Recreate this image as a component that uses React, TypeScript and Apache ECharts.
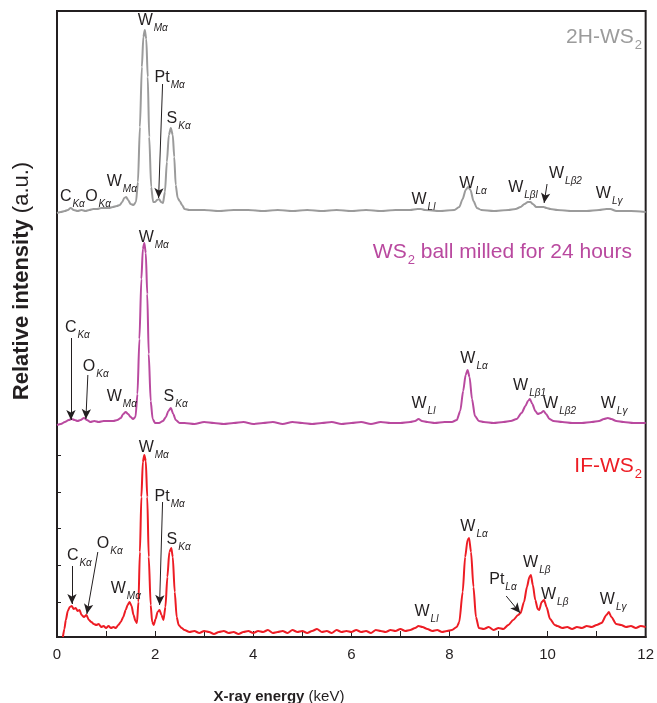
import React, { useEffect, useRef } from "react";
import * as echarts from "echarts";

// ---------- data ----------
const xMin = 0;
const xMax = 12;
const xInterval = 2;
const yMax = 626;
const yTickValues = [35, 72, 109, 145, 182];

// vertical offsets of the stacked spectra (a.u.)
const offsetIF = 0;
const offsetMilled = 208;
const offset2H = 420;

// [energy keV, intensity a.u.]
const spectrum2H: [number, number][] = [
  [0, 4], [0.08, 5], [0.16, 6], [0.22, 7], [0.28, 9], [0.34, 7], [0.42, 6], [0.5, 7], [0.58, 6], [0.66, 7],
  [0.74, 8], [0.82, 8], [0.9, 9], [0.98, 9], [1.06, 9], [1.14, 10], [1.22, 11], [1.28, 12], [1.33, 15],
  [1.37, 19], [1.41, 20], [1.45, 17], [1.5, 13], [1.56, 12], [1.61, 15], [1.65, 35], [1.69, 90], [1.73, 150],
  [1.76, 180], [1.79, 187], [1.82, 178], [1.85, 140], [1.88, 80], [1.92, 30], [1.96, 15], [2.0, 15],
  [2.04, 17], [2.08, 18], [2.12, 15], [2.16, 14], [2.2, 25], [2.24, 55], [2.28, 82], [2.32, 89], [2.36, 82],
  [2.39, 60], [2.42, 32], [2.46, 19], [2.5, 16], [2.55, 12], [2.6, 8], [2.7, 7], [3.0, 7], [3.3, 6], [3.6, 7],
  [3.9, 7], [4.2, 6], [4.5, 7], [4.8, 6], [5.1, 7], [5.4, 6], [5.7, 7], [6.0, 6], [6.3, 7], [6.6, 6], [6.9, 7],
  [7.2, 7], [7.35, 8], [7.42, 8], [7.5, 7], [7.8, 6], [8.1, 7], [8.2, 10], [8.27, 18], [8.33, 27], [8.38, 30],
  [8.43, 27], [8.49, 16], [8.56, 9], [8.65, 7], [8.9, 6], [9.2, 7], [9.35, 8], [9.45, 10], [9.53, 13],
  [9.6, 15], [9.65, 15], [9.7, 13], [9.77, 10], [9.85, 10], [9.92, 10], [9.98, 9], [10.06, 8], [10.2, 7],
  [10.5, 6], [10.8, 6], [11.05, 7], [11.2, 8], [11.28, 8], [11.4, 6], [11.7, 6], [12, 5],
];

const spectrumMilled: [number, number][] = [
  [0, 4], [0.08, 5], [0.16, 7], [0.24, 9], [0.3, 10], [0.36, 9], [0.42, 8], [0.48, 9], [0.55, 11], [0.61, 9],
  [0.68, 7], [0.76, 8], [0.85, 7], [0.95, 8], [1.05, 8], [1.15, 8], [1.23, 9], [1.3, 11], [1.35, 15], [1.4, 17],
  [1.45, 15], [1.5, 12], [1.55, 10], [1.6, 12], [1.64, 35], [1.68, 90], [1.72, 150], [1.75, 180], [1.78, 186],
  [1.81, 176], [1.84, 135], [1.87, 75], [1.91, 28], [1.95, 10], [2.0, 6], [2.08, 6], [2.16, 8], [2.22, 12],
  [2.27, 18], [2.32, 21], [2.37, 15], [2.42, 9], [2.5, 6], [2.6, 6], [2.8, 5], [3.0, 7], [3.2, 6], [3.4, 5],
  [3.6, 6], [3.8, 7], [4.0, 5], [4.2, 6], [4.4, 7], [4.6, 5], [4.8, 7], [5.0, 6], [5.2, 5], [5.4, 6], [5.6, 7],
  [5.8, 5], [6.0, 6], [6.2, 7], [6.4, 5], [6.6, 7], [6.8, 6], [7.0, 6], [7.2, 7], [7.3, 8], [7.37, 10],
  [7.44, 8], [7.55, 7], [7.7, 6], [7.9, 7], [8.05, 7], [8.15, 9], [8.22, 18], [8.28, 38], [8.33, 54],
  [8.37, 59], [8.41, 52], [8.46, 30], [8.52, 13], [8.6, 8], [8.7, 7], [8.9, 6], [9.1, 7], [9.25, 8], [9.37, 10],
  [9.47, 16], [9.55, 23], [9.6, 28], [9.64, 30], [9.69, 25], [9.75, 18], [9.8, 15], [9.86, 16], [9.92, 18],
  [9.97, 15], [10.04, 10], [10.12, 8], [10.3, 7], [10.5, 6], [10.7, 6], [10.9, 7], [11.05, 8], [11.15, 10],
  [11.23, 11], [11.3, 10], [11.4, 8], [11.55, 7], [11.75, 6], [12, 6],
];

const spectrumIF: [number, number][] = [
  [0.12, 0], [0.15, 8], [0.18, 17], [0.22, 26], [0.26, 30], [0.3, 31], [0.34, 28], [0.38, 29], [0.42, 26],
  [0.46, 27], [0.5, 22], [0.55, 20], [0.6, 22], [0.65, 17], [0.7, 15], [0.75, 13], [0.8, 12], [0.85, 13],
  [0.9, 10], [0.95, 11], [1.0, 9], [1.05, 11], [1.1, 9], [1.15, 10], [1.2, 9], [1.25, 12], [1.3, 15],
  [1.35, 20], [1.4, 27], [1.44, 32], [1.48, 35], [1.52, 31], [1.56, 22], [1.6, 16], [1.63, 14], [1.66, 35],
  [1.69, 85], [1.72, 140], [1.75, 175], [1.78, 182], [1.81, 176], [1.84, 140], [1.87, 80], [1.91, 32],
  [1.94, 15], [1.97, 12], [2.01, 18], [2.05, 25], [2.09, 27], [2.13, 22], [2.17, 17], [2.21, 30], [2.25, 60],
  [2.29, 85], [2.33, 89], [2.36, 80], [2.4, 45], [2.44, 20], [2.48, 12], [2.54, 9], [2.6, 7], [2.7, 5],
  [2.8, 6], [2.9, 4], [3.0, 6], [3.1, 5], [3.2, 3], [3.3, 5], [3.4, 6], [3.5, 4], [3.6, 5], [3.7, 3], [3.8, 5],
  [3.9, 6], [4.0, 4], [4.1, 6], [4.2, 5], [4.3, 7], [4.4, 4], [4.5, 5], [4.6, 6], [4.7, 4], [4.8, 7], [4.9, 5],
  [5.0, 6], [5.1, 4], [5.2, 6], [5.3, 8], [5.4, 5], [5.5, 6], [5.6, 4], [5.7, 7], [5.8, 5], [5.9, 6], [6.0, 5],
  [6.1, 7], [6.2, 5], [6.3, 6], [6.4, 4], [6.5, 7], [6.6, 6], [6.7, 5], [6.8, 7], [6.9, 6], [7.0, 8], [7.1, 6],
  [7.2, 7], [7.3, 9], [7.37, 11], [7.45, 10], [7.55, 8], [7.65, 6], [7.75, 7], [7.85, 5], [7.95, 6], [8.05, 7],
  [8.15, 10], [8.2, 15], [8.27, 45], [8.32, 80], [8.37, 97], [8.4, 99], [8.44, 85], [8.49, 50], [8.54, 20],
  [8.6, 9], [8.7, 8], [8.8, 10], [8.9, 7], [9.0, 9], [9.1, 8], [9.2, 12], [9.3, 17], [9.4, 22], [9.45, 24],
  [9.52, 35], [9.58, 50], [9.63, 60], [9.66, 62], [9.7, 52], [9.75, 37], [9.8, 28], [9.83, 27], [9.88, 35],
  [9.93, 37], [9.98, 30], [10.05, 18], [10.15, 12], [10.2, 11], [10.3, 9], [10.4, 10], [10.5, 8], [10.6, 10],
  [10.7, 9], [10.8, 11], [10.9, 10], [11.0, 12], [11.1, 14], [11.2, 22], [11.25, 25], [11.3, 20], [11.4, 13],
  [11.5, 12], [11.6, 10], [11.7, 11], [11.8, 9], [11.9, 11], [12.0, 10],
];

// peak labels: [energy keV, intensity a.u. (label top), element, line]
const labels2H: [number, number, string, string][] = [
  [0.06, 29, "C", "Kα"], [0.575, 29, "O", "Kα"], [1.015, 44, "W", "Mα"], [1.645, 205, "W", "Mα"],
  [1.99, 148, "Pt", "Mα"], [2.234, 107, "S", "Kα"], [7.228, 26, "W", "Ll"], [8.203, 42, "W", "Lα"],
  [9.198, 38, "W", "Lβl"], [10.03, 52, "W", "Lβ2"], [10.985, 32, "W", "Lγ"],
];
const labelsMilled: [number, number, string, string][] = [
  [1.665, 200, "W", "Mα"], [0.162, 110, "C", "Kα"], [0.528, 71, "O", "Kα"], [1.015, 41, "W", "Mα"],
  [2.173, 41, "S", "Kα"], [7.228, 34, "W", "Ll"], [8.223, 79, "W", "Lα"], [9.299, 52, "W", "Lβ1"],
  [9.909, 34, "W", "Lβ2"], [11.086, 34, "W", "Lγ"],
];
const labelsIF: [number, number, string, string][] = [
  [1.665, 198, "W", "Mα"], [1.99, 149, "Pt", "Mα"], [2.234, 106, "S", "Kα"], [0.203, 90, "C", "Kα"],
  [0.812, 102, "O", "Kα"], [1.096, 57, "W", "Mα"], [7.289, 34, "W", "Ll"], [8.223, 119, "W", "Lα"],
  [8.812, 66, "Pt", "Lα"], [9.503, 83, "W", "Lβ"], [9.868, 51, "W", "Lβ"], [11.066, 46, "W", "Lγ"],
];

// arrows: [from keV, from a.u., to keV, to a.u.]
const arrows2H: [number, number, number, number][] = [
  [2.152, 133, 2.071, 19], [9.99, 33, 9.93, 14],
];
const arrowsMilled: [number, number, number, number][] = [
  [0.284, 91, 0.284, 9], [0.629, 54, 0.589, 10],
];
const arrowsIF: [number, number, number, number][] = [
  [0.305, 71, 0.305, 33], [0.832, 85, 0.609, 23], [2.152, 135, 2.091, 32], [9.157, 41, 9.442, 24],
];

// ---------- styling ----------
const FONT = "'Liberation Sans', Arial, Helvetica, sans-serif";
const INK = "#231f20";
const GRAY = "#9b9b9b";
const MAGENTA = "#b9499f";
const RED = "#ed1c24";

const labelRich = {
  m: { fontSize: 16, lineHeight: 17, color: INK, fontFamily: FONT, verticalAlign: "top" },
  s: {
    fontSize: 10, lineHeight: 10, color: INK, fontFamily: FONT, fontStyle: "italic",
    verticalAlign: "top", padding: [11, 0, 0, 1],
  },
};

function lineSeries(name: string, data: [number, number][], offset: number, color: string,
  arrows: [number, number, number, number][]) {
  return {
    name,
    type: "line",
    data: data.map(([x, y]) => [x, y + offset]),
    showSymbol: false,
    smooth: 0.25,
    smoothMonotone: "x",
    lineStyle: { color, width: 2 },
    itemStyle: { color },
    emphasis: { disabled: true },
    silent: true,
    markLine: {
      silent: true,
      symbol: ["none", "arrow"],
      symbolSize: [7, 10],
      label: { show: false },
      itemStyle: { color: INK },
      lineStyle: { color: INK, width: 1, type: "solid" },
      emphasis: { disabled: true },
      data: arrows.map(([x1, y1, x2, y2]) => [
        { coord: [x1, y1 + offset] },
        { coord: [x2, y2 + offset] },
      ]),
    },
  };
}

function labelSeries(name: string, data: [number, number, string, string][], offset: number) {
  return {
    name,
    type: "scatter",
    z: 5,
    silent: true,
    symbolSize: 0.1,
    itemStyle: { color: "rgba(0,0,0,0)" },
    data: data.map(([x, y, el, ln]) => [x, y + offset, el, ln]),
    label: {
      show: true,
      position: [0, 0],
      align: "left",
      verticalAlign: "top",
      color: INK,
      opacity: 1,
      formatter: (p: any) => `{m|${p.data[2]}}{s|${p.data[3]}}`,
      rich: labelRich,
    },
    emphasis: { disabled: true },
  };
}

function titleText(x: number, y: number, main: string, tail: string, color: string) {
  return {
    type: "text",
    x,
    y,
    silent: true,
    style: {
      text: `{m|${main}}{s|2}` + (tail ? `{m|${tail}}` : ""),
      align: "right",
      verticalAlign: "top",
      rich: {
        m: { fontSize: 21, lineHeight: 22, fill: color, fontFamily: FONT, verticalAlign: "top" },
        s: { fontSize: 13, lineHeight: 13, fill: color, fontFamily: FONT, verticalAlign: "top", padding: [13, 0, 0, 1] },
      },
    },
  };
}

export default function App() {
  const ref = useRef<HTMLDivElement>(null);
  useEffect(() => {
    if (!ref.current) return;
    const chart = echarts.init(ref.current, null, { renderer: "svg" });
    const option: any = {
      animation: false,
      grid: {
        left: 57, right: 9, top: 11, bottom: 66,
        show: true, borderColor: INK, borderWidth: 2, backgroundColor: "transparent",
      },
      xAxis: {
        type: "value",
        min: xMin,
        max: xMax,
        interval: xInterval,
        axisLine: { show: true, lineStyle: { color: INK, width: 2 } },
        axisTick: { show: true, inside: true, length: 6, lineStyle: { color: INK, width: 1 } },
        minorTick: { show: true, splitNumber: 2, length: 6, lineStyle: { color: INK, width: 1 } },
        axisLabel: { fontSize: 15, color: INK, fontFamily: FONT, margin: 9 },
        splitLine: { show: false },
        minorSplitLine: { show: false },
      },
      yAxis: {
        type: "value",
        min: 0,
        max: yMax,
        axisLine: { show: false },
        axisLabel: { show: false },
        splitLine: { show: false },
        axisTick: { show: true, inside: true, length: 4, customValues: yTickValues, lineStyle: { color: INK } },
      },
      series: [
        lineSeries("2H-WS2", spectrum2H, offset2H, GRAY, arrows2H),
        lineSeries("WS2 ball milled for 24 hours", spectrumMilled, offsetMilled, MAGENTA, arrowsMilled),
        lineSeries("IF-WS2", spectrumIF, offsetIF, RED, arrowsIF),
        labelSeries("labels 2H", labels2H, offset2H),
        labelSeries("labels milled", labelsMilled, offsetMilled),
        labelSeries("labels IF", labelsIF, offsetIF),
      ],
      graphic: [
        titleText(642, 25, "2H-WS", "", GRAY),
        {
          type: "text", x: 632, y: 240, silent: true,
          style: {
            text: "{m|WS}{s|2}{m| ball milled for 24 hours}",
            align: "right", verticalAlign: "top",
            rich: {
              m: { fontSize: 21, lineHeight: 22, fill: MAGENTA, fontFamily: FONT, verticalAlign: "top" },
              s: { fontSize: 13, lineHeight: 13, fill: MAGENTA, fontFamily: FONT, verticalAlign: "top", padding: [13, 0, 0, 1] },
            },
          },
        },
        titleText(642, 454, "IF-WS", "", RED),
        {
          type: "text", x: 20, y: 281, rotation: Math.PI / 2, silent: true,
          style: {
            text: "{b|Relative intensity}{r| (a.u.)}",
            align: "center", verticalAlign: "middle",
            rich: {
              b: { fontSize: 22, fontWeight: "bold", fill: INK, fontFamily: FONT },
              r: { fontSize: 22, fill: INK, fontFamily: FONT },
            },
          },
        },
        {
          type: "text", x: 279, y: 695, silent: true,
          style: {
            text: "{b|X-ray energy}{r| (keV)}",
            align: "center", verticalAlign: "middle",
            rich: {
              b: { fontSize: 15, fontWeight: "bold", fill: INK, fontFamily: FONT },
              r: { fontSize: 15, fill: INK, fontFamily: FONT },
            },
          },
        },
      ],
    };
    chart.setOption(option);
    return () => chart.dispose();
  }, []);
  return <div ref={ref} style={{ position: "fixed", left: 0, top: 0, width: 657, height: 703 }} />;
}
